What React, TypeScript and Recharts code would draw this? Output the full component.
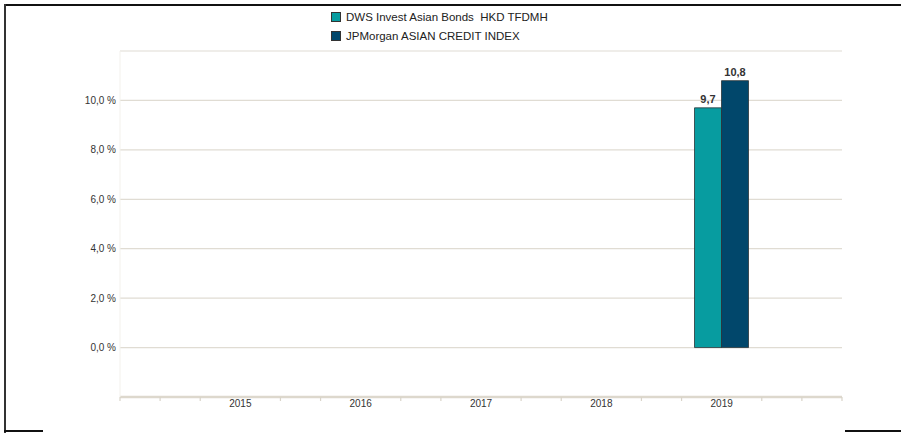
import React from 'react';
import { BarChart, Bar, XAxis, YAxis, CartesianGrid, Legend, LabelList } from 'recharts';

const years = [2015, 2016, 2017, 2018, 2019];
const dwsValues: (number | null)[] = [null, null, null, null, 9.7];
const jpmValues: (number | null)[] = [null, null, null, null, 10.8];
const seriesNames = ['DWS Invest Asian Bonds  HKD TFDMH', 'JPMorgan ASIAN CREDIT INDEX'];
const seriesColors = ['#079ca0', '#01476b'];
const yTicks = [-2, 0, 2, 4, 6, 8, 10, 12];
const yLabelled = [0, 2, 4, 6, 8, 10];
const xDomain = [2014, 2020];
const xTicks = [
  2014, 2014.3333, 2014.6667, 2015, 2015.3333, 2015.6667, 2016, 2016.3333, 2016.6667,
  2017, 2017.3333, 2017.6667, 2018, 2018.3333, 2018.6667, 2019, 2019.3333, 2019.6667, 2020,
];

const data = years.map((year, i) => ({ year, dws: dwsValues[i], jpm: jpmValues[i] }));

const FONT = '"Liberation Sans", Arial, sans-serif';

const fmt = (v: number) => v.toFixed(1).replace('.', ',');

const XTick = (props: any) => {
  const { x, y, payload } = props;
  const v = payload.value;
  if (years.includes(v)) {
    return (
      <text x={x} y={y + 10} textAnchor="middle" fontSize={10} fill="#333" fontFamily={FONT}>
        {String(v)}
      </text>
    );
  }
  return <line x1={x} x2={x} y1={y} y2={y + 4} stroke="#d9d4c9" strokeWidth={1.2} />;
};

const YTick = (props: any) => {
  const { x, y, payload } = props;
  const v = payload.value;
  if (!yLabelled.includes(v)) return null;
  return (
    <text x={x} y={y + 3.5} textAnchor="end" fontSize={10} fill="#333" fontFamily={FONT}>
      {fmt(v) + ' %'}
    </text>
  );
};

const LegendContent = () => (
  <div style={{ fontFamily: FONT, fontSize: 11.5, color: '#222' }}>
    {seriesNames.map((name, i) => (
      <div key={name} style={{ display: 'flex', alignItems: 'center', height: 19, whiteSpace: 'pre' }}>
        <span
          style={{
            display: 'inline-block',
            width: 8,
            height: 8,
            background: seriesColors[i],
            border: '1px solid #333',
            marginRight: 5,
          }}
        />
        <span>{name}</span>
      </div>
    ))}
  </div>
);

export default function App() {
  return (
    <div style={{ position: 'absolute', left: 0, top: 0, width: 901, height: 433, background: '#fff' }}>
      <div style={{ position: 'absolute', left: 4, top: 4, width: 897, height: 2, background: '#111' }} />
      <div style={{ position: 'absolute', left: 4, top: 4, width: 2, height: 429, background: '#333' }} />
      <div style={{ position: 'absolute', left: 4, top: 430, width: 39, height: 2, background: '#111' }} />
      <div style={{ position: 'absolute', left: 845, top: 430, width: 56, height: 2, background: '#111' }} />
      <BarChart
        width={901}
        height={433}
        data={data}
        margin={{ top: 51, right: 59, bottom: 6, left: 0 }}
        barGap={0}
        barSize={27}
      >
        <CartesianGrid vertical={false} stroke="#e0dcd3" strokeWidth={1.2} />
        <XAxis
          dataKey="year"
          type="number"
          domain={xDomain}
          ticks={xTicks}
          interval={0}
          tickSize={0}
          tickMargin={0}
          tick={<XTick />}
          axisLine={{ stroke: '#ddd8cd', strokeWidth: 2.5 }}
          tickLine={false}
          height={30}
          allowDecimals
        />
        <YAxis
          type="number"
          domain={[-2, 12]}
          ticks={yTicks}
          interval={0}
          width={120}
          tickSize={0}
          tickMargin={4}
          tick={<YTick />}
          axisLine={{ stroke: '#f3f1ec' }}
          tickLine={false}
        />
        <Legend
          layout="vertical"
          align="center"
          verticalAlign="middle"
          content={<LegendContent />}
          wrapperStyle={{ left: 331, top: 7, width: 'auto', height: 'auto' }}
        />
        <Bar dataKey="dws" name={seriesNames[0]} fill={seriesColors[0]} stroke="#2b3538" strokeWidth={0.8} isAnimationActive={false}>
          <LabelList dataKey="dws" position="top" offset={5} formatter={(v: any) => (v == null ? '' : fmt(v))} style={{ fontSize: 11, fontWeight: 'bold', fill: '#333', fontFamily: FONT }} />
        </Bar>
        <Bar dataKey="jpm" name={seriesNames[1]} fill={seriesColors[1]} stroke="#2b3538" strokeWidth={0.8} isAnimationActive={false}>
          <LabelList dataKey="jpm" position="top" offset={5} formatter={(v: any) => (v == null ? '' : fmt(v))} style={{ fontSize: 11, fontWeight: 'bold', fill: '#333', fontFamily: FONT }} />
        </Bar>
      </BarChart>
    </div>
  );
}
